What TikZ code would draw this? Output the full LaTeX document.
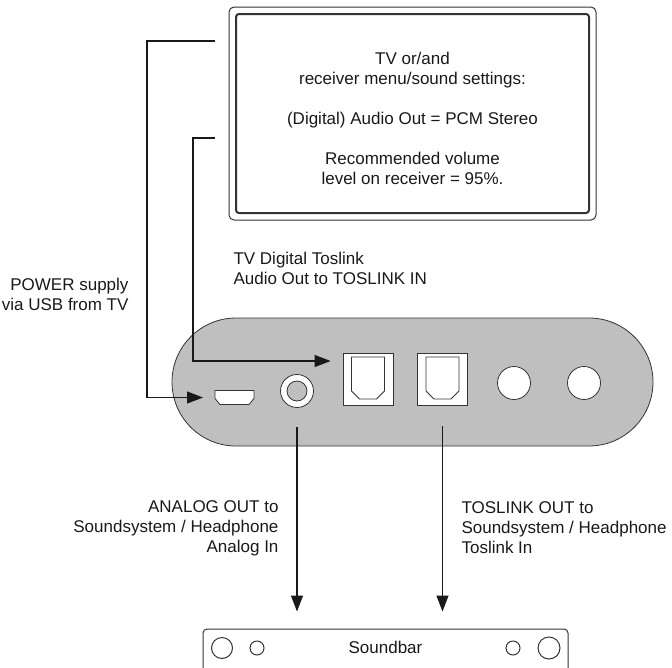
\documentclass[tikz,border=0pt]{standalone}
\usepackage{fontspec}
\setmainfont{Liberation Sans}
\usetikzlibrary{arrows.meta,fit}

\definecolor{casegray}{HTML}{BFBFBF}
\definecolor{inkgray}{HTML}{333333}

\tikzset{
  txt/.style={font=\fontsize{17}{20}\selectfont, text=black!90},
  menubox/.style={txt, draw=inkgray, line width=2pt, rounded corners=3pt, align=center,
    minimum width=353pt, minimum height=199pt, inner sep=0pt},
  frame/.style={draw=inkgray, line width=1pt, rounded corners=5pt},
  device/.style={draw=inkgray, fill=casegray, line width=0.8pt, rounded corners=64pt,
    minimum width=481pt, minimum height=128pt, inner sep=0pt},
  port/.style={draw=inkgray, fill=white, line width=0.8pt, inner sep=0pt},
  plug/.style={inner sep=0pt, outer sep=0pt},
  hole/.style={port, circle, minimum size=33pt},
  wire/.style={draw=black!90, line width=1.2pt, -{Triangle[length=16pt,width=12pt]}},
  note/.style={txt},
  soundbar/.style={txt, draw=inkgray, line width=1pt, rounded corners=4pt,
    minimum width=365pt, minimum height=44pt, inner sep=0pt, text depth=8pt},
  knob/.style={draw=inkgray, line width=1pt, circle, inner sep=0pt},
}

% outline of a plug with its two lower corners cut off
\newcommand{\plugoutline}[3]{%
  \draw[port] (#1.north west) -- (#1.north east) -- ([yshift=#3]#1.south east)
    -- ([xshift=-#2]#1.south east) -- ([xshift=#2]#1.south west)
    -- ([yshift=#3]#1.south west) -- cycle;}

\begin{document}
\begin{tikzpicture}[x=1pt, y=-1pt]
  \useasboundingbox (0,0) rectangle (672,667);
  \clip (0,0) rectangle (672,667);

  % Define nodes
  \node[menubox] (menu) at (412.5,113.5) {\rule{0pt}{22pt}TV or/and\\receiver menu/sound settings:\\[20pt](Digital) Audio Out = PCM Stereo\\[20pt]Recommended volume\\level on receiver = 95\%.};
  \node[frame, fit=(menu), inner sep=6pt] (frame) {};
  \coordinate (power) at (215,41);
  \coordinate (tvout) at (215,138);

  \node[note, align=left, anchor=west]  (tvlabel)    at (230,268) {TV Digital Toslink\\Audio Out to TOSLINK IN};
  \node[note, align=right, anchor=east] (powerlabel) at (132,294) {POWER supply\\via USB from TV};

  \node[device] (device) at (412.5,382) {};
  \node[plug, minimum width=39pt, minimum height=14pt] (usb) at (234.5,397.5) {};
  \plugoutline{usb}{5pt}{6pt}
  \node[hole] (jack) at (297,391) {};
  \node[port, circle, fill=casegray, minimum size=20pt] (jackhole) at (jack) {};
  \node[port, minimum width=50pt, minimum height=52pt] (tosin)  at (368,379) {};
  \node[port, minimum width=50pt, minimum height=52pt] (tosout) at (442.5,379) {};
  \node[plug, minimum width=33pt, minimum height=42pt] (tosincore)  at ([yshift=1pt]tosin) {};
  \node[plug, minimum width=33pt, minimum height=42pt] (tosoutcore) at ([yshift=1pt]tosout) {};
  \plugoutline{tosincore}{8pt}{8pt}
  \plugoutline{tosoutcore}{8pt}{8pt}
  \node[hole] (portA) at (514,383) {};
  \node[hole] (portB) at (584,383) {};

  \node[note, align=right, anchor=east] (analoglabel)  at (282,528) {ANALOG OUT to\\Soundsystem / Headphone\\Analog In};
  \node[note, align=left, anchor=west]  (toslinklabel) at (458,528) {TOSLINK OUT to\\Soundsystem / Headphone\\Toslink In};

  \node[soundbar] (soundbar) at (385.5,651) {Soundbar};
  \node[knob, minimum size=21pt] (knobA) at (222,648) {};
  \node[knob, minimum size=14pt] (knobB) at (257,648) {};
  \node[knob, minimum size=14pt] (knobC) at (513,648) {};
  \node[knob, minimum size=22pt] (knobD) at (549,648) {};

  % Connect the nodes
  \draw[wire] (power) -- ++(-68,0) |- ([xshift=-12pt]usb.west);
  \draw[wire] (tvout) -- ++(-22,0) |- ([xshift=-12pt,yshift=18pt]tosin.west);
  \draw[wire] ([yshift=-19pt]jack.south) -- ([yshift=17pt]jack.south |- soundbar.north);
  \draw[wire] ([yshift=-21pt]tosout.south) -- ([yshift=17pt]tosout.south |- soundbar.north);

\end{tikzpicture}
\end{document}
